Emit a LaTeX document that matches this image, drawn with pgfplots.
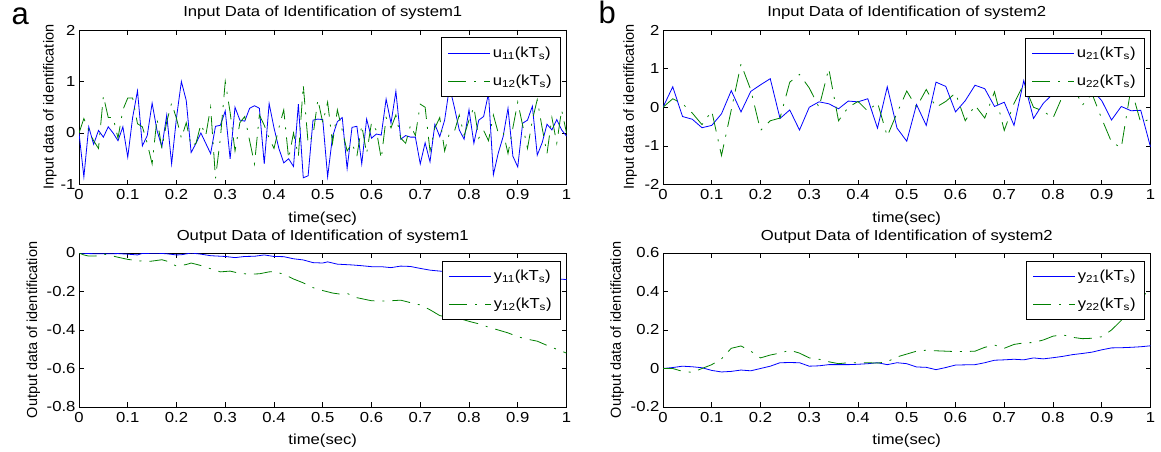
\documentclass[border=0pt]{standalone}
\usepackage{fontspec}
\setmainfont{Liberation Sans}[FakeStretch=1.15]
\newfontfamily\plainsans{Liberation Sans}
\usepackage{pgfplots}
\pgfplotsset{compat=1.18}
\usepackage{pgfplotstable}

\definecolor{mblue}{rgb}{0,0,1}
\definecolor{mgreen}{rgb}{0,0.5,0}

% input data, system 1 (step 0.01)
\pgfplotstableread{
t u11 u12
0.00 0 0
0.01 -0.85 0.28
0.02 0.12 0.05
0.03 -0.22 -0.15
0.04 0.05 -0.30
0.05 -0.08 0.72
0.06 0.12 0.30
0.07 0.00 0.30
0.08 -0.15 -0.10
0.09 0.12 0.45
0.10 -0.47 0.68
0.11 0.30 0.68
0.12 0.82 0.18
0.13 -0.25 0.12
0.14 -0.05 -0.20
0.15 0.58 -0.60
0.16 0.05 0.28
0.17 -0.27 -0.30
0.18 0.35 0.22
0.19 -0.60 0.58
0.20 0.30 0.28
0.21 1.00 -0.10
0.22 0.63 0.20
0.23 -0.38 -0.25
0.24 -0.20 -0.20
0.25 0.00 0.17
0.26 -0.20 -0.05
0.27 -0.40 0.50
0.28 0.13 -0.88
0.29 0.15 -0.10
0.30 0.43 1.00
0.31 -0.50 0.40
0.32 0.50 -0.35
0.33 0.25 0.20
0.34 0.23 0.32
0.35 0.48 -0.15
0.36 0.53 -0.60
0.37 0.48 0.35
0.38 -0.60 0.15
0.39 0.57 -0.10
0.40 0.10 -0.30
0.41 -0.30 0.10
0.42 -0.58 0.45
0.43 -0.50 -0.50
0.44 -0.65 0.00
0.45 0.56 -0.45
0.46 -0.87 0.93
0.47 -0.83 -0.20
0.48 0.25 -0.05
0.49 0.27 0.65
0.50 0.26 0.20
0.51 -0.85 0.60
0.52 -0.07 -0.20
0.53 0.22 0.45
0.54 0.30 0.05
0.55 -0.69 -0.35
0.56 0.11 -0.20
0.57 0.13 -0.45
0.58 -0.60 0.15
0.59 0.27 -0.40
0.60 -0.10 0.20
0.61 -0.02 0.05
0.62 -0.04 -0.50
0.63 0.66 0.30
0.64 0.19 0.10
0.65 0.81 0.35
0.66 -0.12 -0.10
0.67 -0.05 -0.20
0.68 -0.08 0.15
0.69 -0.08 -0.05
0.70 -0.60 0.56
0.71 -0.19 0.50
0.72 -0.56 -0.35
0.73 0.17 0.10
0.74 -0.07 0.30
0.75 0.25 -0.35
0.76 0.90 0.00
0.77 0.50 0.03
0.78 0.06 0.35
0.79 -0.12 -0.05
0.80 0.45 0.25
0.81 -0.20 0.50
0.82 0.25 -0.10
0.83 0.32 0.05
0.84 0.77 -0.15
0.85 -0.81 0.35
0.86 -0.39 0.00
0.87 -0.07 0.02
0.88 0.48 -0.40
0.89 -0.45 0.10
0.90 -0.66 0.60
0.91 0.19 0.15
0.92 0.25 -0.30
0.93 0.52 0.25
0.94 -0.43 0.65
0.95 -0.19 0.10
0.96 0.17 -0.40
0.97 0.06 0.30
0.98 0.26 -0.20
0.99 0.06 0.45
1.00 -0.06 0.00
}\inputone

% input data, system 2 (step 0.02)
\pgfplotstableread{
t u21 u22
0.00 0 0
0.02 0.53 0.22
0.04 -0.24 0.09
0.06 -0.31 -0.15
0.08 -0.53 -0.45
0.10 -0.47 -0.10
0.12 -0.17 -1.25
0.14 0.43 -0.07
0.16 -0.12 1.12
0.18 0.41 0.45
0.20 0.58 -0.60
0.22 0.74 -0.35
0.24 -0.29 -0.28
0.26 -0.07 0.65
0.28 -0.59 0.85
0.30 0.00 0.50
0.32 0.14 0.00
0.34 0.09 1.00
0.36 -0.04 -0.35
0.38 0.16 0.00
0.40 0.14 0.15
0.42 0.22 -0.10
0.44 -0.54 0.12
0.46 0.53 -0.75
0.48 -0.54 -0.15
0.50 -0.88 0.42
0.52 0.07 0.00
0.54 -0.47 0.46
0.56 0.65 0.00
0.58 0.54 0.15
0.60 -0.12 0.37
0.62 0.17 -0.35
0.64 0.57 0.05
0.66 0.48 -0.28
0.68 0.02 0.40
0.70 0.13 -0.60
0.72 -0.47 0.10
0.74 0.69 0.60
0.76 -0.29 0.00
0.78 0.10 -0.10
0.80 0.35 -0.28
0.82 0.50 0.30
0.84 0.40 0.60
0.86 0.60 0.05
0.88 0.45 0.35
0.90 0.17 -0.30
0.92 -0.33 -0.90
0.94 0.02 -1.05
0.96 -0.09 0.50
0.98 -0.08 -0.40
1.00 -1.03 -0.30
}\inputtwo

\pgfplotstableread{
t y11
0.00 0
0.02 -0.003
0.04 -0.004
0.06 -0.004
0.08 -0.003
0.10 -0.006
0.12 -0.010
0.13 -0.002
0.14 -0.002
0.16 -0.001
0.18 -0.004
0.20 -0.010
0.21 -0.009
0.23 0.000
0.25 -0.006
0.27 -0.014
0.30 -0.018
0.32 -0.024
0.34 -0.018
0.36 -0.017
0.38 -0.010
0.40 -0.018
0.42 -0.019
0.44 -0.030
0.46 -0.036
0.48 -0.050
0.50 -0.052
0.51 -0.046
0.53 -0.058
0.56 -0.062
0.58 -0.066
0.60 -0.071
0.62 -0.071
0.64 -0.076
0.66 -0.068
0.68 -0.070
0.70 -0.080
0.72 -0.089
0.74 -0.094
0.76 -0.098
0.80 -0.106
0.85 -0.115
0.90 -0.124
0.95 -0.130
0.98 -0.134
1.00 -0.138
}\outoneA

\pgfplotstableread{
t y12
0.00 0
0.01 -0.010
0.02 -0.016
0.03 -0.016
0.04 -0.014
0.05 -0.005
0.06 -0.010
0.08 -0.022
0.10 -0.033
0.12 -0.040
0.14 -0.044
0.15 -0.042
0.17 -0.035
0.18 -0.042
0.20 -0.068
0.22 -0.060
0.23 -0.052
0.25 -0.065
0.27 -0.082
0.29 -0.098
0.31 -0.094
0.33 -0.106
0.35 -0.110
0.37 -0.108
0.39 -0.098
0.40 -0.097
0.42 -0.110
0.44 -0.135
0.46 -0.155
0.48 -0.180
0.50 -0.195
0.52 -0.208
0.54 -0.215
0.55 -0.210
0.57 -0.232
0.60 -0.248
0.62 -0.250
0.64 -0.248
0.66 -0.245
0.68 -0.258
0.70 -0.270
0.72 -0.295
0.74 -0.325
0.76 -0.335
0.78 -0.340
0.80 -0.355
0.82 -0.368
0.84 -0.385
0.86 -0.400
0.88 -0.415
0.90 -0.435
0.92 -0.448
0.94 -0.458
0.96 -0.480
0.98 -0.500
1.00 -0.520
}\outoneB

\pgfplotstableread{
t y21 y22
0.00 0.000 0.000
0.02 0.005 0.000
0.04 0.012 -0.015
0.06 0.009 -0.020
0.08 0.004 0.000
0.10 -0.010 0.020
0.12 -0.018 0.050
0.14 -0.015 0.105
0.16 -0.008 0.117
0.18 -0.012 0.090
0.20 0.000 0.055
0.22 0.012 0.070
0.24 0.030 0.080
0.26 0.031 0.095
0.28 0.030 0.080
0.30 0.012 0.055
0.32 0.014 0.048
0.34 0.020 0.035
0.36 0.020 0.025
0.38 0.020 0.030
0.40 0.022 0.030
0.42 0.025 0.030
0.44 0.030 0.028
0.46 0.020 0.035
0.48 0.030 0.060
0.50 0.025 0.075
0.52 0.008 0.090
0.54 0.006 0.095
0.56 -0.006 0.092
0.58 0.005 0.090
0.60 0.018 0.088
0.62 0.019 0.088
0.64 0.020 0.090
0.66 0.030 0.110
0.68 0.043 0.122
0.70 0.045 0.105
0.72 0.048 0.125
0.74 0.045 0.133
0.76 0.055 0.135
0.78 0.050 0.148
0.80 0.056 0.168
0.82 0.063 0.175
0.84 0.072 0.162
0.86 0.078 0.155
0.88 0.085 0.157
0.90 0.097 0.165
0.92 0.107 0.200
0.94 0.108 0.250
0.96 0.110 0.300
0.98 0.113 0.360
1.00 0.118 0.420
}\outtwo

\newcommand{\mfont}{\fontsize{14.5}{16}\selectfont}

\pgfplotsset{
  mpanel/.style={
    scale only axis,
    width=487.5pt,
    xmin=0, xmax=1,
    xtick={0,0.1,0.2,0.3,0.4,0.5,0.6,0.7,0.8,0.9,1},
    tick align=inside,
    major tick length=5pt,
    axis line style={line width=0.8pt},
    every tick/.style={black, line width=0.6pt},
    /pgf/number format/assume math mode=true,
    /pgf/number format/fixed,
    tick label style={font=\mfont},
    xticklabel style={yshift=-1.5pt},
    label style={font=\mfont},
    xlabel={time(sec)},
    xlabel style={at={([yshift=-34pt]axis description cs:0.5,0)}, anchor=center},
    legend cell align=left,
    legend image code/.code={\draw[#1] (0pt,0pt) -- (42pt,0pt);},
    legend style={at={(1,1)}, anchor=north east, xshift=-5.5pt, yshift=-7.5pt,
      draw=black, line width=0.8pt, fill=white,
      font=\mfont,
      inner xsep=7pt, inner ysep=7pt, row sep=12pt},
  },
  sblue/.style={mblue, line width=0.8pt},
  sgreen/.style={mgreen, line width=0.8pt, dash pattern=on 18pt off 8pt on 2pt off 8pt},
}

\begin{document}
\begin{tikzpicture}
\useasboundingbox (0,0) rectangle (1161pt,-452pt);

\node[anchor=base west, font=\plainsans\fontsize{31}{31}\selectfont] at (8pt,-25pt) {a};
\node[anchor=base west, font=\plainsans\fontsize{31}{31}\selectfont] at (595pt,-24pt) {b};

% top left
\begin{axis}[mpanel, name=ax1, at={(79pt,-30pt)}, anchor=north west, height=154.5pt,
  ymin=-1, ymax=2, ytick={-1,0,1,2},
  ylabel={Input data of identification},
  ylabel style={font=\plainsans\mfont, at={([xshift=-29pt]axis description cs:0,0.5)}, anchor=center}]
\addplot[sblue] table[x=t, y=u11] {\inputone};
\addplot[sgreen] table[x=t, y=u12] {\inputone};
\legend{u\textsubscript{11}(kT\textsubscript{s}), u\textsubscript{12}(kT\textsubscript{s})}
\end{axis}

% top right
\begin{axis}[mpanel, name=ax2, at={(663pt,-30pt)}, anchor=north west, height=154.5pt,
  ymin=-2, ymax=2, ytick={-2,-1,0,1,2},
  ylabel={Input data of identification},
  ylabel style={font=\plainsans\mfont, at={([xshift=-33pt]axis description cs:0,0.5)}, anchor=center}]
\addplot[sblue] table[x=t, y=u21] {\inputtwo};
\addplot[sgreen] table[x=t, y=u22] {\inputtwo};
\legend{u\textsubscript{21}(kT\textsubscript{s}), u\textsubscript{22}(kT\textsubscript{s})}
\end{axis}

% bottom left
\begin{axis}[mpanel, name=ax3, at={(79pt,-253pt)}, anchor=north west, height=154pt,
  ymin=-0.8, ymax=0, ytick={-0.8,-0.6,-0.4,-0.2,0},
  ylabel={Output data of identification},
  ylabel style={font=\plainsans\mfont, at={([xshift=-45.5pt]axis description cs:0,0.5)}, anchor=center}]
\addplot[sblue] table[x=t, y=y11] {\outoneA};
\addplot[sgreen] table[x=t, y=y12] {\outoneB};
\legend{y\textsubscript{11}(kT\textsubscript{s}), y\textsubscript{12}(kT\textsubscript{s})}
\end{axis}

% bottom right
\begin{axis}[mpanel, name=ax4, at={(663pt,-253pt)}, anchor=north west, height=154pt,
  ymin=-0.2, ymax=0.6, ytick={-0.2,0,0.2,0.4,0.6},
  ylabel={Output data of identification},
  ylabel style={font=\plainsans\mfont, at={([xshift=-46pt]axis description cs:0,0.5)}, anchor=center}]
\addplot[sblue] table[x=t, y=y21] {\outtwo};
\addplot[sgreen] table[x=t, y=y22] {\outtwo};
\legend{y\textsubscript{21}(kT\textsubscript{s}), y\textsubscript{22}(kT\textsubscript{s})}
\end{axis}

% panel titles
\node[font=\mfont, anchor=center] at ([yshift=17pt]ax1.north) {Input Data of Identification of system1};
\node[font=\mfont, anchor=center] at ([yshift=17pt]ax2.north) {Input Data of Identification of system2};
\node[font=\mfont, anchor=center] at ([yshift=16pt]ax3.north) {Output Data of Identification of system1};
\node[font=\mfont, anchor=center] at ([yshift=16pt]ax4.north) {Output Data of Identification of system2};
\end{tikzpicture}
\end{document}
